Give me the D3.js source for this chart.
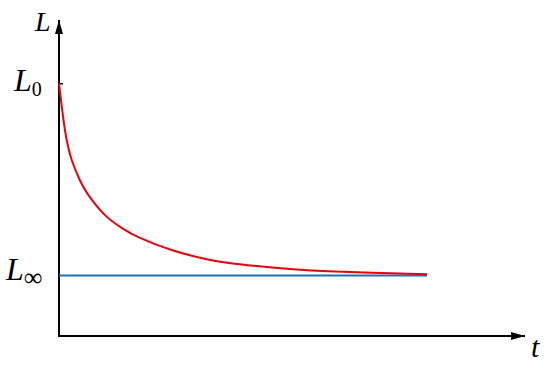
<!DOCTYPE html>
<html>
<head>
<meta charset="utf-8">
<script src="https://cdn.jsdelivr.net/npm/d3@7"></script>
<style>
  body { margin: 0; background: #fff; }
  text { font-family: "Liberation Serif", "Times New Roman", serif; font-style: italic; fill: #000; }
</style>
</head>
<body>
<div id="chart"></div>
<script>
// values (t in arbitrary units, L relative to L0 = 1)
var tValues = [0, 0.13, 0.28, 0.46, 0.64, 1.0, 1.36, 1.76, 2.48, 3.21, 3.93, 5.02, 6.0, 7.0, 8.0];
var lValues = [1.0, 0.814, 0.694, 0.614, 0.557, 0.478, 0.428, 0.388, 0.338, 0.304, 0.284, 0.265, 0.255, 0.249, 0.244];
var L0 = 1.0;
var Linf = 0.239;
var tEnd = 8.0;
var tMax = 10.13;
var lMax = 1.25;

function init(){
    var w = 550;
    var h = 368;

    var svg = d3.select("#chart")
                .append("svg")
                .attr("width", w)
                .attr("height", h);

    var x = d3.scaleLinear().domain([0, tMax]).range([59, 525]);
    var y = d3.scaleLinear().domain([0, lMax]).range([336, 20]);

    var defs = svg.append("defs");
    defs.append("marker")
        .attr("id", "arrow")
        .attr("viewBox", "0 0 14 8")
        .attr("refX", 14)
        .attr("refY", 4)
        .attr("markerWidth", 14)
        .attr("markerHeight", 8)
        .attr("markerUnits", "userSpaceOnUse")
        .attr("orient", "auto")
        .append("path")
        .attr("d", "M0,0 L14,4 L0,8 Z")
        .style("fill", "#000");

    // axes
    svg.append("line")
        .attr("x1", x(0)).attr("y1", y(0))
        .attr("x2", x(tMax)).attr("y2", y(0))
        .style("stroke", "#000").style("stroke-width", 2)
        .attr("marker-end", "url(#arrow)");

    svg.append("line")
        .attr("x1", x(0)).attr("y1", y(0) + 1)
        .attr("x2", x(0)).attr("y2", y(lMax))
        .style("stroke", "#000").style("stroke-width", 2)
        .attr("marker-end", "url(#arrow)");

    // L0 tick
    var yAxis = d3.axisLeft(y)
                  .tickValues([L0])
                  .tickSizeInner(-4)
                  .tickSizeOuter(0)
                  .tickFormat("");
    var ga = svg.append("g")
        .attr("transform", "translate(" + x(0) + ",0)")
        .call(yAxis);
    ga.select(".domain").remove();
    ga.selectAll(".tick line").style("stroke", "#000").style("stroke-width", 1.5);

    // asymptote
    svg.append("line")
        .attr("x1", x(0)).attr("y1", y(Linf))
        .attr("x2", x(tEnd)).attr("y2", y(Linf))
        .style("stroke", "#1f6fb4").style("stroke-width", 2);

    // decay curve
    var pts = tValues.map(function(t, i){ return [t, lValues[i]]; });
    var line = d3.line()
                 .x(function(d){ return x(d[0]); })
                 .y(function(d){ return y(d[1]); })
                 .curve(d3.curveNatural);
    svg.append("path")
        .datum(pts)
        .attr("d", line)
        .style("fill", "none")
        .style("stroke", "#e8000b")
        .style("stroke-width", 2);

    // labels
    svg.append("text")
        .attr("x", 35).attr("y", 31)
        .style("font-size", "28px")
        .text("L");

    var t0 = svg.append("text")
        .attr("x", 14).attr("y", 91)
        .style("font-size", "32px")
        .text("L");
    t0.append("tspan")
        .attr("dy", 5)
        .style("font-size", "20px")
        .style("font-style", "normal")
        .text("0");

    var ti = svg.append("text")
        .attr("x", 6).attr("y", 280)
        .style("font-size", "32px")
        .text("L");
    ti.append("tspan")
        .attr("dy", 6)
        .style("font-size", "26px")
        .style("font-style", "normal")
        .text("\u221E");

    svg.append("text")
        .attr("x", 531).attr("y", 357)
        .style("font-size", "30px")
        .text("t");
}
window.onload = init;
</script>
</body>
</html>
